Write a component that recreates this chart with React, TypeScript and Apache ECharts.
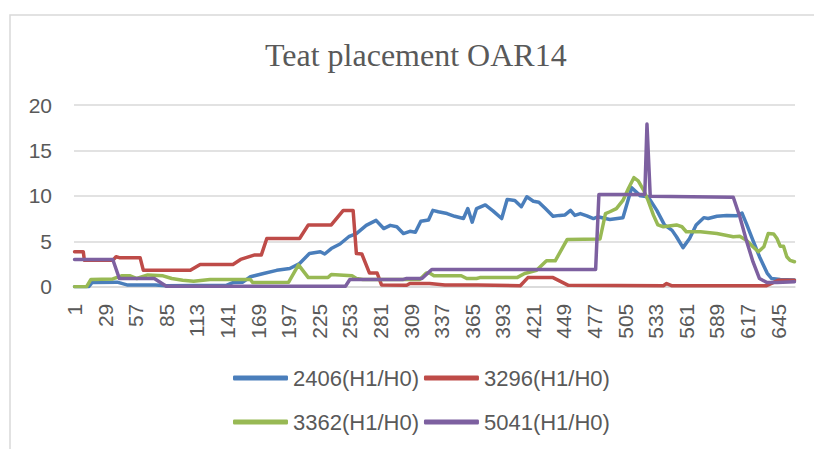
import React, { useEffect, useRef } from "react";
import * as echarts from "echarts";

const categories: string[] = Array.from({ length: 660 }, (_, i) => String(i + 1));

const yTicks = { min: 0, max: 20, interval: 5 };

const seriesNames = ["2406(H1/H0)", "3296(H1/H0)", "3362(H1/H0)", "5041(H1/H0)"];
const seriesColors = ["#4A7EBB", "#BE4B48", "#98B954", "#7D60A0"];

// [category number, value]
const s2406: [number, number][] = [
  [1, 0], [14, 0], [17, 0.45], [40, 0.5], [49, 0.2], [75, 0.2], [85, 0.1], [140, 0.15],
  [146, 0.45], [155, 0.5], [162, 1.1], [174, 1.45], [186, 1.8], [198, 2.0], [207, 2.55],
  [216, 3.65], [226, 3.85], [230, 3.6], [236, 4.2], [244, 4.7], [252, 5.5], [259, 5.85],
  [268, 6.75], [277, 7.3], [284, 6.4], [290, 6.75], [296, 6.6], [302, 5.85], [308, 6.1],
  [313, 6.0], [318, 7.2], [325, 7.35], [329, 8.4], [334, 8.25], [342, 8.05], [349, 7.75],
  [357, 7.5], [361, 8.6], [365, 7.1], [369, 8.6], [377, 9.0], [384, 8.35], [392, 7.5],
  [397, 9.6], [404, 9.5], [410, 8.8], [415, 9.9], [421, 9.4], [426, 9.3], [432, 8.6],
  [439, 7.75], [445, 7.85], [450, 7.9], [455, 8.4], [459, 7.85], [464, 8.05], [470, 7.8],
  [476, 7.5], [480, 7.7], [487, 7.5], [491, 7.4], [503, 7.6], [511, 10.9], [519, 10.0],
  [526, 9.9], [534, 8.4], [541, 6.8], [548, 6.2], [552, 5.5], [558, 4.3], [564, 5.3],
  [570, 6.8], [577, 7.6], [581, 7.5], [589, 7.75], [598, 7.85], [607, 7.8], [612, 8.1],
  [616, 6.95], [622, 5.1], [628, 3.3], [635, 1.5], [639, 0.9], [647, 0.8], [660, 0.75],
];

const s3296: [number, number][] = [
  [1, 3.85], [9, 3.85], [10, 2.9], [36, 2.9], [39, 3.3], [42, 3.2], [61, 3.2], [64, 1.8],
  [107, 1.8], [116, 2.45], [146, 2.45], [153, 3.0], [166, 3.5], [172, 3.5], [177, 5.3],
  [207, 5.3], [215, 6.8], [236, 6.8], [247, 8.4], [256, 8.4], [259, 3.65], [264, 3.6],
  [271, 1.5], [278, 1.5], [282, 0.2], [305, 0.15], [308, 0.35], [326, 0.35], [340, 0.2],
  [370, 0.2], [409, 0.1], [416, 1.0], [439, 1.0], [453, 0.15], [540, 0.1], [543, 0.35],
  [548, 0.1], [634, 0.1], [645, 0.7], [660, 0.7],
];

const s3362: [number, number][] = [
  [1, 0], [12, 0], [16, 0.8], [36, 0.85], [44, 1.2], [52, 1.2], [58, 0.9], [68, 1.3],
  [82, 1.2], [90, 0.9], [100, 0.7], [110, 0.6], [125, 0.8], [162, 0.8], [164, 0.45],
  [197, 0.5], [206, 2.4], [215, 1.0], [233, 1.0], [236, 1.35], [255, 1.2], [259, 0.9],
  [265, 0.8], [317, 0.8], [323, 1.5], [326, 1.5], [330, 1.2], [355, 1.2], [360, 0.9],
  [369, 0.9], [372, 1.0], [406, 1.0], [413, 1.45], [424, 1.8], [433, 2.85], [441, 2.85],
  [452, 5.2], [482, 5.25], [487, 8.05], [491, 8.25], [497, 8.6], [503, 9.5], [508, 10.8],
  [513, 12.0], [517, 11.65], [522, 10.6], [526, 9.5], [531, 7.85], [535, 6.8], [540, 6.6],
  [552, 6.8], [557, 6.6], [561, 6.05], [574, 6.05], [589, 5.85], [604, 5.5], [610, 5.55],
  [616, 5.1], [622, 4.4], [627, 3.85], [632, 4.4], [636, 5.85], [641, 5.8], [644, 5.3],
  [647, 4.45], [650, 4.45], [653, 3.3], [656, 2.9], [660, 2.75],
];

const s5041: [number, number][] = [
  [1, 3.0], [36, 3.0], [42, 0.9], [74, 0.9], [85, 0.05], [249, 0.05], [253, 0.8],
  [302, 0.8], [305, 0.9], [319, 0.9], [328, 1.9], [478, 1.9], [481, 10.15], [523, 10.15],
  [525, 17.9], [528, 9.95], [604, 9.85], [610, 7.7], [616, 5.1], [622, 2.75], [628, 0.9],
  [635, 0.45], [644, 0.45], [660, 0.55],
];

const seriesData = [s2406, s3296, s3362, s5041];

const TEXT = "#595959";
const GRID = "#D9D9D9";

export default function App() {
  const ref = useRef<HTMLDivElement>(null);
  useEffect(() => {
    if (!ref.current) return;
    const chart = echarts.init(ref.current, null, { renderer: "svg" });
    const legendText = { fontSize: 22, color: TEXT, fontFamily: "Liberation Sans" };
    chart.setOption({
      animation: false,
      backgroundColor: "#FFFFFF",
      title: {
        text: "Teat placement OAR14",
        left: 260,
        top: 34,
        padding: 5,
        textStyle: { fontFamily: "Liberation Serif", fontSize: 32, fontWeight: "normal", color: TEXT },
      },
      graphic: [
        {
          type: "rect",
          shape: { x: 10, y: 15, width: 820, height: 460 },
          style: { fill: "none", stroke: GRID, lineWidth: 1.5 },
          silent: true,
        },
      ],
      legend: [
        {
          data: [seriesNames[0], seriesNames[1]],
          left: 233,
          top: 367,
          padding: 0,
          itemWidth: 55,
          itemHeight: 5,
          itemGap: 5,
          icon: "roundRect",
          textStyle: legendText,
          selectedMode: false,
        },
        {
          data: [seriesNames[2], seriesNames[3]],
          left: 233,
          top: 411,
          padding: 0,
          itemWidth: 55,
          itemHeight: 5,
          itemGap: 5,
          icon: "roundRect",
          textStyle: legendText,
          selectedMode: false,
        },
      ],
      grid: { left: 74, right: 19, top: 105, bottom: 162.3, containLabel: false },
      xAxis: {
        type: "category",
        data: categories,
        boundaryGap: true,
        axisLine: { show: true, lineStyle: { color: GRID, width: 1.5 } },
        axisTick: { show: false },
        axisLabel: {
          interval: 27,
          rotate: 90,
          margin: 17,
          fontSize: 21,
          color: TEXT,
          fontFamily: "Liberation Sans",
        },
        splitLine: { show: false },
      },
      yAxis: {
        type: "value",
        min: yTicks.min,
        max: yTicks.max,
        interval: yTicks.interval,
        axisLine: { show: false },
        axisTick: { show: false },
        axisLabel: { fontSize: 21, color: TEXT, margin: 22, fontFamily: "Liberation Sans" },
        splitLine: { show: true, lineStyle: { color: GRID, width: 1.5 } },
      },
      series: seriesNames.map((name, i) => ({
        name,
        type: "line",
        data: seriesData[i].map(([c, v]) => [c - 1, v]),
        showSymbol: false,
        symbol: "none",
        smooth: false,
        color: seriesColors[i],
        lineStyle: { width: 3.5, color: seriesColors[i], cap: "round", join: "round" },
        emphasis: { disabled: true },
      })),
    });
    return () => chart.dispose();
  }, []);
  return (
    <div
      ref={ref}
      style={{ position: "absolute", left: 0, top: 0, width: 814, height: 449 }}
    />
  );
}
